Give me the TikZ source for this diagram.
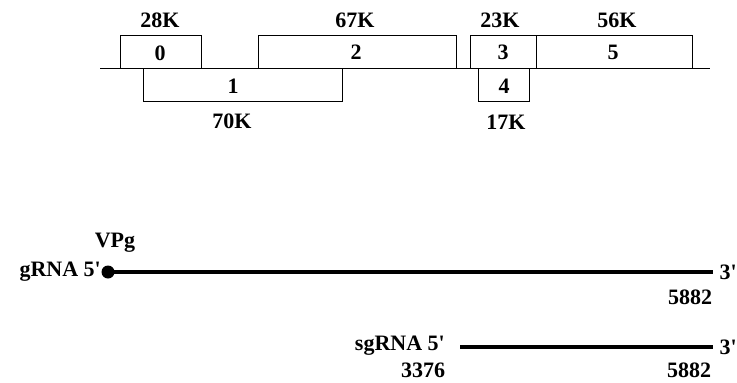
\documentclass[tikz,border=0pt]{standalone}
\usepackage{fontspec}
\setmainfont{Liberation Serif}
\newcommand{\pr}{\textquotesingle}
\begin{document}
\begin{tikzpicture}[x=1pt,y=-1pt,
  lbl/.style={font=\fontsize{22}{24}\selectfont\bfseries, inner sep=0pt},
  orf/.style={draw, line width=1pt},
  rna/.style={line width=3.2pt}]
\useasboundingbox (0,0) rectangle (737,383);
% genome axis
\coordinate (axL) at (100,68);
\coordinate (axR) at (710,68);
\draw[line width=1pt] (axL) -- (axR);
% ORF boxes
\draw[orf] (120,68) -- (120,35) -- (201,35) -- (201,68);
\draw[orf] (258,68) -- (258,35) -- (456,35) -- (456,68);
\draw[orf] (470,68) -- (470,35) -- (692,35) -- (692,68);
\draw[orf] (536,35) -- (536,68);
\draw[orf] (143,68) -- (143,101) -- (342,101) -- (342,68);
\draw[orf] (478,68) -- (478,101) -- (529,101) -- (529,68);
% ORF labels
\node[lbl] (o0) at (160,53) {0};
\node[lbl] (o2) at (356,52) {2};
\node[lbl] (o3) at (503,52) {3};
\node[lbl] (o5) at (613,52) {5};
\node[lbl] (o1) at (233,86) {1};
\node[lbl] (o4) at (504,86) {4};
\node[lbl] (k28) at (160,20) {28K};
\node[lbl] (k67) at (355,20) {67K};
\node[lbl] (k23) at (500,20) {23K};
\node[lbl] (k56) at (617,20) {56K};
\node[lbl] (k70) at (232,121) {70K};
\node[lbl] (k17) at (506,122) {17K};
% gRNA
\node[circle, fill, inner sep=0pt, minimum size=13pt] (vpg) at (108,272) {};
\coordinate (gend) at (713,272);
\draw[rna] (vpg.center) -- (gend);
\node[lbl, anchor=east] (g5) at (101,272) {gRNA 5\pr};
\node[lbl] (vpgt) at (115,243) {VPg};
\node[lbl, anchor=east] (g3) at (737,272) {3\pr};
\node[lbl] (g5882) at (690,297) {5882};
% sgRNA
\coordinate (sgs) at (460,347);
\coordinate (sge) at (713,347);
\draw[rna] (sgs) -- (sge);
\node[lbl, anchor=east] (sg5) at (445,346) {sgRNA 5\pr};
\node[lbl, anchor=east] (sg3) at (737,347) {3\pr};
\node[lbl] (s3376) at (423,370) {3376};
\node[lbl] (s5882) at (689,370) {5882};
\end{tikzpicture}
\end{document}
